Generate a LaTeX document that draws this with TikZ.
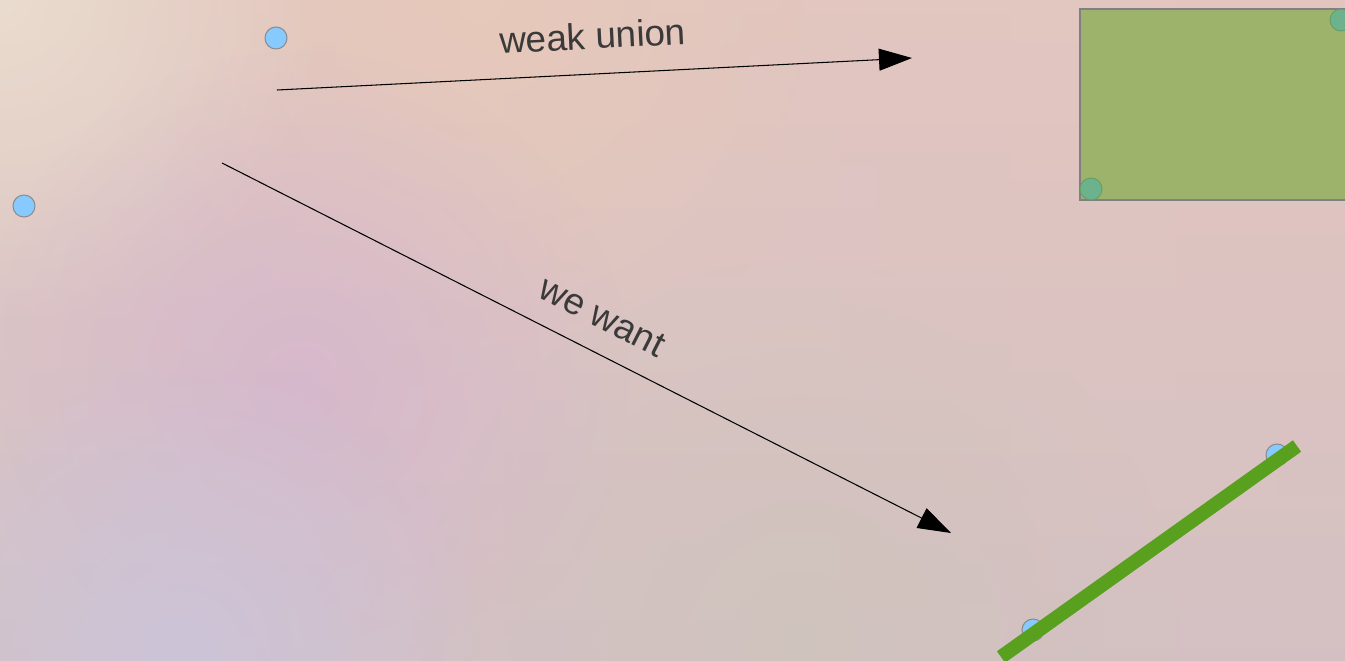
\documentclass[tikz,border=0pt]{standalone}
\usepackage{fontspec}
\setmainfont{Liberation Sans}
\usetikzlibrary{positioning,arrows.meta,fadings}
\definecolor{bgtop}{RGB}{230,200,188}
\definecolor{bgbottom}{RGB}{206,192,194}
\definecolor{bgleft}{RGB}{220,198,206}
\definecolor{bgright}{RGB}{222,194,196}
\definecolor{spotbeige}{RGB}{234,220,206}
\definecolor{spotwarm}{RGB}{232,202,184}
\definecolor{spotlilac}{RGB}{214,182,206}
\definecolor{spotgray}{RGB}{204,196,216}
\definecolor{spotsand}{RGB}{206,196,186}
\definecolor{dotblue}{RGB}{135,202,255}
\definecolor{dotteal}{RGB}{108,178,140}
\definecolor{boxgreen}{RGB}{157,178,106}
\definecolor{linegreen}{RGB}{88,160,30}
\definecolor{labelgray}{RGB}{58,58,58}
\tikzfading[name=softspot, inner color=transparent!0, outer color=transparent!100]

\begin{document}
\begin{tikzpicture}[
  x=0.02cm, y=-0.02cm,
  dot/.style={circle, draw=gray!90, fill=dotblue, line width=0.6pt,
              minimum size=0.44cm, inner sep=0pt},
  corner/.style={circle, draw=green!35!black!60, fill=dotteal, line width=0.5pt,
                 minimum size=0.44cm, inner sep=0pt},
  arr/.style={-{Triangle[length=18.8pt,width=12.5pt]}, line width=0.6pt, black},
  lbl/.style={font=\fontsize{21}{24}\selectfont, text=labelgray, sloped},
  glow/.style={path fading=softspot}
]
\useasboundingbox (0,0) rectangle (1345,660);
\clip (0,0) rectangle (1345,660);
% background
\shade[left color=bgleft, right color=bgright] (0,0) rectangle (1345,660);
\shade[top color=bgtop, bottom color=bgbottom, opacity=0.6] (0,0) rectangle (1345,660);
\fill[spotwarm, glow, opacity=0.8] (480,0) circle (380);
\fill[spotbeige, glow] (0,0) circle (330);
\fill[spotlilac, glow, opacity=0.8] (300,380) circle (330);
\fill[spotgray, glow] (180,650) circle (300);
\fill[spotsand, glow, opacity=0.7] (800,640) circle (380);

\node[dot] (p) at (276,38) {};
\node[dot] (q) at (24,206) {};

\coordinate (wstart) at (277,90);
\coordinate (wend) at (912,58);
\coordinate (vstart) at (222,163);
\coordinate (vend) at (951,533);
\draw[arr] (wstart) -- node[lbl, above=10.5pt] {weak union} (wend);
\draw[arr] (vstart) -- node[lbl, above=9.5pt, pos=0.5] {we want} (vend);

% box in the upper right
\draw[gray, line width=0.6pt, fill=boxgreen] (1080,9) rectangle (1360,200);
\node[corner] (b1) at (1091,189) {};
\node[corner] (b2) at (1341,20) {};

% segment in the lower right
\node[dot] (s1) at (1033,630) {};
\node[dot] (s2) at (1277,455) {};
\coordinate (sa) at (1001,657);
\coordinate (sb) at (1297,446);
\draw[linegreen, line width=8pt] (sa) -- (sb);
\end{tikzpicture}
\end{document}
